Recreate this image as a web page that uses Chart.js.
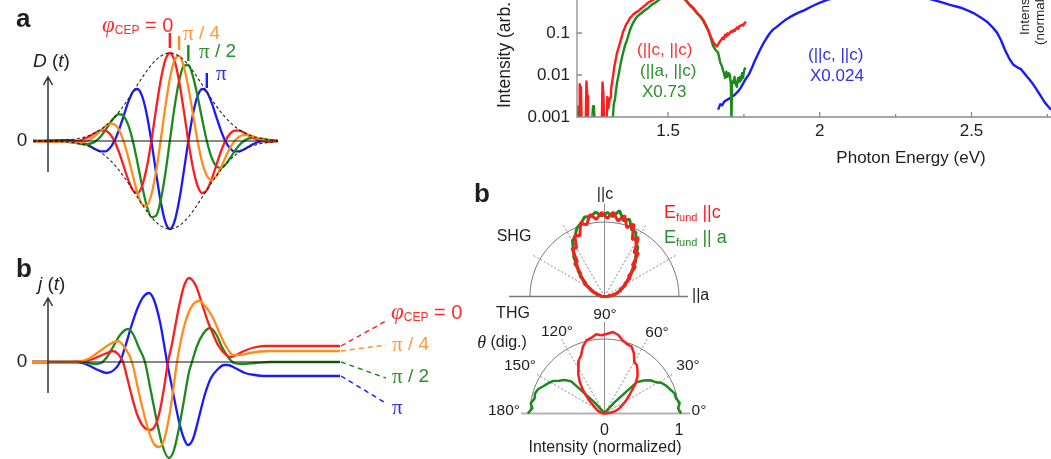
<!DOCTYPE html>
<html>
<head>
<meta charset="utf-8">
<title>CEP-dependent currents and harmonic spectra</title>
<script src="https://cdn.jsdelivr.net/npm/chart.js@4.4.1/dist/chart.umd.min.js"></script>
<style>
  html, body { margin: 0; padding: 0; background: #fff; }
  #figure { position: relative; width: 1051px; height: 459px; overflow: hidden; background: #fff; }
  #figure canvas { position: absolute; }
</style>
</head>
<body>
<div id="figure">
  <canvas id="pulse" width="300" height="240" style="left:0px;top:0px"></canvas>
  <canvas id="current" width="480" height="219" style="left:0px;top:240px"></canvas>
  <canvas id="spectrum" width="571" height="180" style="left:480px;top:0px"></canvas>
  <canvas id="polar" width="260" height="279" style="left:470px;top:180px"></canvas>
</div>
<script>
// ---- panel a: driving field D(t), one trace per carrier-envelope phase
const pulseTime = [-29.6, -22, -21, -20, -19, -18, -17, -16, -15, -14, -13, -12, -11, -10, -9, -8, -7, -6, -5, -4, -3, -2, -1,
  0, 1, 2, 3, 4, 5, 6, 7, 8, 9, 10, 11, 12, 13, 14, 15, 16, 17, 18, 19, 20, 21, 22, 23.4];
const pulseEnvelope = [0, 0.012, 0.018, 0.026, 0.037, 0.052, 0.072, 0.097, 0.128, 0.167, 0.214, 0.269, 0.331, 0.401, 0.477, 0.558, 0.639, 0.720, 0.796, 0.864, 0.921, 0.964, 0.991,
  1, 0.991, 0.964, 0.921, 0.864, 0.796, 0.720, 0.639, 0.558, 0.477, 0.401, 0.331, 0.269, 0.214, 0.167, 0.128, 0.097, 0.072, 0.052, 0.037, 0.026, 0.018, 0.012, 0];
const pulseRed = [0, -0.009, -0.007, 0, 0.014, 0.037, 0.066, 0.097, 0.118, 0.118, 0.082, 0, -0.127, -0.284, -0.441, -0.558, -0.591, -0.509, -0.305, 0, 0.353, 0.682, 0.916,
  1, 0.916, 0.682, 0.353, 0, -0.305, -0.509, -0.591, -0.558, -0.441, -0.284, -0.127, 0, 0.082, 0.118, 0.118, 0.097, 0.066, 0.037, 0.014, 0, -0.007, -0.009, 0];
const pulseOrange = [0, -0.012, -0.016, -0.018, -0.014, 0, 0.027, 0.068, 0.118, 0.167, 0.197, 0.190, 0.127, 0, -0.183, -0.394, -0.591, -0.720, -0.735, -0.611, -0.353, 0, 0.379,
  0.707, 0.916, 0.964, 0.851, 0.611, 0.305, 0, -0.245, -0.394, -0.441, -0.401, -0.306, -0.190, -0.082, 0, 0.049, 0.068, 0.066, 0.052, 0.034, 0.018, 0.007, 0, 0];
const pulseGreen = [0, -0.009, -0.016, -0.026, -0.034, -0.037, -0.027, 0, 0.049, 0.118, 0.197, 0.269, 0.306, 0.284, 0.183, 0, -0.245, -0.509, -0.735, -0.864, -0.851, -0.682, -0.379,
  0, 0.379, 0.682, 0.851, 0.864, 0.735, 0.509, 0.245, 0, -0.183, -0.284, -0.306, -0.269, -0.197, -0.118, -0.049, 0, 0.027, 0.037, 0.034, 0.026, 0.016, 0.009, 0];
const pulseBlue = [0, 0.009, 0.007, 0, -0.014, -0.037, -0.066, -0.097, -0.118, -0.118, -0.082, 0, 0.127, 0.284, 0.441, 0.558, 0.591, 0.509, 0.305, 0, -0.353, -0.682, -0.916,
  -1, -0.916, -0.682, -0.353, 0, 0.305, 0.509, 0.591, 0.558, 0.441, 0.284, 0.127, 0, -0.082, -0.118, -0.118, -0.097, -0.066, -0.037, -0.014, 0, 0.007, 0.009, 0];
// time of the field crest marked above each trace (0, pi/4, pi/2, pi)
const crestTimes = [0, 2, 4, 8];

// ---- panel b: induced current j(t)
const currentTimeRed = [-29.84, -21.62, -19.46, -17.30, -15.14, -13.62, -12.32, -11.24, -10.16, -9.30, -8.22, -7.14, -5.84, -4.32, -3.03, -2.16, -1.30, -0.43,
  0.43, 1.30, 2.16, 3.03, 4.11, 5.62, 7.14, 8.22, 9.30, 10.38, 11.68, 12.97, 14.27, 16.00, 18.16, 20.54, 36.76];
const currentRed = [0, 0, 0.005, 0.02, 0.06, 0.09, 0.11, 0.08, 0, -0.15, -0.35, -0.52, -0.64, -0.68, -0.62, -0.48, -0.26, 0,
  0.18, 0.40, 0.60, 0.76, 0.84, 0.76, 0.55, 0.40, 0.28, 0.17, 0.09, 0.05, 0.07, 0.11, 0.145, 0.16, 0.16];
const currentTimeOrange = [-29.84, -20.54, -19.46, -17.30, -15.14, -12.97, -11.24, -9.73, -8.22, -7.14, -5.84, -4.54, -3.46, -2.38, -1.30, 0,
  0.86, 1.51, 2.38, 3.46, 4.76, 6.27, 7.78, 9.30, 10.81, 12.32, 13.62, 15.14, 17.30, 19.46, 21.62, 36.76];
const currentOrange = [0, 0, 0.005, 0.04, 0.11, 0.18, 0.21, 0.14, 0, -0.22, -0.48, -0.70, -0.82, -0.85, -0.78, -0.50,
  -0.22, 0, 0.22, 0.42, 0.56, 0.61, 0.55, 0.44, 0.28, 0.14, 0.07, 0.07, 0.09, 0.105, 0.11, 0.11];
const currentTimeGreen = [-29.84, -19.46, -17.73, -16.22, -14.92, -13.62, -12.32, -10.81, -9.08, -8.00, -6.70, -5.41, -4.32, -3.03, -1.73, -0.22,
  0.86, 1.95, 3.03, 4.11, 4.76, 5.84, 7.14, 8.65, 9.95, 11.24, 12.54, 13.84, 15.57, 18.38, 21.62, 36.76];
const currentGreen = [0, 0, -0.01, -0.02, -0.01, 0.05, 0.15, 0.27, 0.33, 0.28, 0.14, 0, -0.25, -0.55, -0.82, -0.96,
  -0.88, -0.66, -0.38, -0.10, 0, 0.16, 0.28, 0.34, 0.28, 0.15, 0.05, -0.01, -0.02, -0.01, 0, 0];
const currentTimeBlue = [-29.84, -20.54, -19.03, -17.30, -15.57, -13.62, -12.11, -10.81, -9.51, -8.22, -6.92, -5.62, -4.54, -3.46, -2.16, -1.08, -0.65,
  0.43, 1.73, 2.81, 3.89, 4.97, 6.27, 7.57, 8.86, 10.38, 11.68, 12.54, 14.05, 16.22, 18.38, 20.54, 36.76];
const currentBlue = [0, 0, -0.01, -0.04, -0.08, -0.11, -0.08, 0, 0.18, 0.38, 0.55, 0.66, 0.69, 0.62, 0.40, 0.12, 0,
  -0.25, -0.55, -0.74, -0.83, -0.77, -0.55, -0.32, -0.16, -0.07, -0.03, -0.03, -0.06, -0.11, -0.13, -0.14, -0.14];

// ---- harmonic spectra (photon energy in eV, intensity in arb. units)
const shgRedEnergy = [1.200, 1.207, 1.209, 1.211, 1.213, 1.215, 1.229, 1.231, 1.234, 1.236, 1.282, 1.284, 1.287, 1.289, 1.298, 1.300, 1.303, 1.306,
  1.309, 1.312, 1.316, 1.319, 1.323, 1.327, 1.332, 1.337, 1.342, 1.347, 1.352, 1.357, 1.362, 1.368, 1.374, 1.380, 1.385, 1.392, 1.397, 1.401,
  1.407, 1.414, 1.420, 1.427, 1.434, 1.441, 1.448, 1.457, 1.480, 1.510, 1.530, 1.556, 1.563, 1.572, 1.580, 1.588, 1.596, 1.605, 1.615, 1.622,
  1.632, 1.640, 1.648, 1.655, 1.661, 1.666, 1.671, 1.676, 1.680, 1.684, 1.688, 1.692, 1.696, 1.700, 1.704, 1.708, 1.712, 1.716, 1.720, 1.724,
  1.727, 1.731, 1.735, 1.740, 1.744, 1.748, 1.752, 1.757];
const shgRedIntensity = [0.0009, 0.0009, 0.0060, 0.0052, 0.0045, 0.0009, 0.0009, 0.0070, 0.0032, 0.0009, 0.0009, 0.0066, 0.0036, 0.0009, 0.0009, 0.0030, 0.0016, 0.0022,
  0.0029, 0.0045, 0.0070, 0.0095, 0.0160, 0.0220, 0.0340, 0.0440, 0.0590, 0.0800, 0.1070, 0.1300, 0.1600, 0.1860, 0.2250, 0.2500, 0.2750, 0.3000, 0.3200, 0.3250,
  0.3600, 0.3980, 0.4300, 0.4700, 0.5250, 0.5600, 0.6000, 0.6500, 0.8000, 0.9000, 0.8500, 0.6400, 0.5600, 0.4700, 0.4200, 0.3600, 0.3000, 0.2600, 0.2100, 0.1700,
  0.1200, 0.0850, 0.0620, 0.0520, 0.0480, 0.0550, 0.0630, 0.0700, 0.0780, 0.0720, 0.0910, 0.0820, 0.0980, 0.0920, 0.1020, 0.1100, 0.1050, 0.1180, 0.1120, 0.1280,
  0.1350, 0.1250, 0.1450, 0.1500, 0.1580, 0.1500, 0.1720, 0.1850];
const shgGreenEnergy = [1.200, 1.202, 1.204, 1.206, 1.250, 1.253, 1.256, 1.258, 1.318, 1.321, 1.325, 1.328, 1.332, 1.337, 1.342, 1.347, 1.352, 1.358,
  1.365, 1.370, 1.375, 1.383, 1.391, 1.398, 1.406, 1.414, 1.420, 1.427, 1.434, 1.441, 1.448, 1.457, 1.466, 1.480, 1.510, 1.530, 1.556, 1.563,
  1.572, 1.580, 1.588, 1.596, 1.605, 1.615, 1.622, 1.632, 1.640, 1.648, 1.656, 1.665, 1.672, 1.678, 1.684, 1.688, 1.692, 1.696, 1.700, 1.704,
  1.707, 1.709, 1.711, 1.715, 1.719, 1.723, 1.727, 1.731, 1.734, 1.737, 1.741, 1.744, 1.747, 1.751, 1.755];
const shgGreenIntensity = [0.0009, 0.0018, 0.0014, 0.0009, 0.0009, 0.0018, 0.0015, 0.0009, 0.0009, 0.0020, 0.0026, 0.0040, 0.0066, 0.0100, 0.0158, 0.0240, 0.0340, 0.0500,
  0.0690, 0.0900, 0.1200, 0.1650, 0.2090, 0.2450, 0.2750, 0.3020, 0.3350, 0.3600, 0.3890, 0.4400, 0.4800, 0.5250, 0.5800, 0.7000, 0.8500, 0.8200, 0.6200, 0.5400,
  0.4500, 0.4000, 0.3450, 0.2900, 0.2500, 0.2000, 0.1600, 0.1150, 0.0800, 0.0500, 0.0400, 0.0340, 0.0200, 0.0158, 0.0110, 0.0085, 0.0120, 0.0090, 0.0110, 0.0100,
  0.0060, 0.0008, 0.0070, 0.0065, 0.0090, 0.0060, 0.0052, 0.0085, 0.0070, 0.0090, 0.0075, 0.0110, 0.0085, 0.0130, 0.0150];
const thgBlueEnergy = [1.665, 1.672, 1.678, 1.685, 1.692, 1.700, 1.710, 1.720, 1.730, 1.740, 1.750, 1.758, 1.767, 1.775, 1.785, 1.795, 1.805, 1.815,
  1.826, 1.836, 1.846, 1.858, 1.870, 1.885, 1.900, 1.915, 1.930, 1.950, 1.968, 1.985, 2.001, 2.027, 2.080, 2.150, 2.220, 2.300, 2.373, 2.400,
  2.429, 2.462, 2.485, 2.505, 2.528, 2.551, 2.568, 2.584, 2.597, 2.610, 2.624, 2.637, 2.652, 2.662, 2.670, 2.684, 2.699, 2.709, 2.719, 2.730,
  2.742, 2.752, 2.762];
const thgBlueIntensity = [0.0015, 0.0020, 0.0019, 0.0023, 0.0025, 0.0027, 0.0030, 0.0034, 0.0040, 0.0050, 0.0068, 0.0085, 0.0105, 0.0140, 0.0210, 0.0300, 0.0420, 0.0580,
  0.0780, 0.1000, 0.1200, 0.1400, 0.1650, 0.2000, 0.2350, 0.2700, 0.3050, 0.3500, 0.4100, 0.4700, 0.5300, 0.6200, 0.7800, 0.9000, 0.9200, 0.8200, 0.6170, 0.5400,
  0.4680, 0.4050, 0.3500, 0.3020, 0.2400, 0.1860, 0.1400, 0.1020, 0.0680, 0.0400, 0.0250, 0.0178, 0.0150, 0.0140, 0.0120, 0.0090, 0.0066, 0.0052, 0.0040, 0.0030,
  0.0022, 0.0018, 0.0015];
const energyTicks = [1.25, 1.5, 1.75, 2, 2.25, 2.5, 2.75];
const energyTickLabels = ['', '1.5', '', '2', '', '2.5', ''];
const intensityTicks = [0.001, 0.01, 0.1];
const intensityTickLabels = ['0.001', '0.01', '0.1'];

// ---- polar dependence (angle in degrees, normalized intensity)
const polarAngles = [0, 4, 8, 12, 16, 20, 24, 28, 32, 36, 40, 44, 48, 52, 56, 60, 64, 68, 72, 76, 80, 84, 88,
  92, 96, 100, 104, 108, 112, 116, 120, 124, 128, 132, 136, 140, 144, 148, 152, 156, 160, 164, 168, 172, 176, 180];
const shgAlongC = [0.00, 0.05, 0.09, 0.15, 0.16, 0.24, 0.23, 0.32, 0.32, 0.43, 0.42, 0.58, 0.56, 0.74, 0.71, 0.91, 0.85, 1.05, 0.97, 1.12, 1.03, 1.14, 1.05,
  1.13, 1.04, 1.12, 0.99, 1.04, 0.88, 0.91, 0.75, 0.78, 0.59, 0.60, 0.44, 0.43, 0.31, 0.32, 0.20, 0.20, 0.12, 0.11, 0.06, 0.05, 0.02, 0.00];
const shgAlongA = [0.00, 0.04, 0.10, 0.13, 0.19, 0.21, 0.26, 0.29, 0.35, 0.39, 0.47, 0.52, 0.62, 0.68, 0.80, 0.84, 0.96, 0.97, 1.09, 1.05, 1.17, 1.08, 1.13,
  1.08, 1.14, 1.09, 1.10, 1.03, 0.99, 0.90, 0.86, 0.74, 0.67, 0.54, 0.49, 0.39, 0.35, 0.27, 0.23, 0.16, 0.14, 0.09, 0.07, 0.04, 0.02, 0.00];
const thgAlongC = [0.00, 0.04, 0.09, 0.14, 0.18, 0.22, 0.25, 0.30, 0.35, 0.41, 0.48, 0.58, 0.66, 0.72, 0.78, 0.80, 0.90, 0.97, 0.98, 1.01, 1.07, 1.10, 1.07,
  1.05, 1.07, 1.03, 1.01, 0.94, 0.84, 0.79, 0.70, 0.63, 0.54, 0.44, 0.34, 0.26, 0.19, 0.15, 0.12, 0.10, 0.08, 0.06, 0.04, 0.03, 0.01, 0.00];
const thgAlongA = [1.03, 0.99, 1.02, 0.98, 0.98, 0.94, 0.91, 0.87, 0.80, 0.76, 0.69, 0.61, 0.20, 0.04, 0, 0, 0, 0, 0, 0, 0, 0, 0,
  0, 0, 0, 0, 0, 0, 0, 0, 0, 0.04, 0.20, 0.62, 0.70, 0.75, 0.82, 0.86, 0.90, 0.95, 0.97, 0.96, 1.00, 0.97, 1.03];

// ---- styling
const SANS = '"Liberation Sans", Arial, Helvetica, sans-serif';
const SERIF = '"Liberation Serif", "Times New Roman", serif';
const RED = '#ff1c1c', ORANGE = '#ff8c1a', GREEN = '#1b8a1b', BLUE = '#1a1aff';
const RED_TEXT = '#ff2e2e', ORANGE_TEXT = '#ff9a3a', GREEN_TEXT = '#2a8f2a', BLUE_TEXT = '#3030e6';
const INK = '#1e1e1e';

function sans(size, style) { return (style ? style + ' ' : '') + size + 'px ' + SANS; }
function serif(size, style) { return (style ? style + ' ' : '') + size + 'px ' + SERIF; }

// draw a run of differently styled pieces: [text, font, color, dy]
function drawParts(ctx, parts, x, y, align) {
  let total = 0;
  parts.forEach(p => { ctx.font = p[1]; total += ctx.measureText(p[0]).width; });
  let cx = align === 'center' ? x - total / 2 : (align === 'right' ? x - total : x);
  ctx.textAlign = 'left';
  ctx.textBaseline = 'middle';
  parts.forEach(p => {
    ctx.font = p[1];
    ctx.fillStyle = p[2];
    ctx.fillText(p[0], cx, y + (p[3] || 0));
    cx += ctx.measureText(p[0]).width;
  });
}

function drawUpright(ctx, text, x, yStart, f, color) {
  ctx.save();
  ctx.translate(x, yStart);
  ctx.rotate(-Math.PI / 2);
  ctx.font = f;
  ctx.fillStyle = color;
  ctx.textAlign = 'left';
  ctx.textBaseline = 'middle';
  ctx.fillText(text, 0, 0);
  ctx.restore();
}

function segment(ctx, x1, y1, x2, y2) {
  ctx.beginPath();
  ctx.moveTo(x1, y1);
  ctx.lineTo(x2, y2);
  ctx.stroke();
}

function upArrow(ctx, x, yBottom, yTop) {
  ctx.strokeStyle = '#333';
  ctx.lineWidth = 1.5;
  ctx.beginPath();
  ctx.moveTo(x, yBottom);
  ctx.lineTo(x, yTop);
  ctx.moveTo(x - 4.5, yTop + 8);
  ctx.lineTo(x, yTop);
  ctx.lineTo(x + 4.5, yTop + 8);
  ctx.stroke();
}

function curve(xs, ys, color, extra) {
  return Object.assign({
    data: xs.map((x, i) => ({ x: x, y: ys[i] })),
    borderColor: color,
    borderWidth: 2.3,
    pointRadius: 0,
    fill: false,
    cubicInterpolationMode: 'monotone'
  }, extra || {});
}

function chartOptions(padding, scales) {
  return {
    responsive: false,
    animation: false,
    devicePixelRatio: 1,
    events: [],
    layout: { padding: padding },
    plugins: { legend: { display: false }, tooltip: { enabled: false } },
    scales: scales
  };
}

// ---------------- panel a
const pulseDecor = {
  id: 'pulseDecor',
  afterDatasetsDraw(chart) {
    const { ctx, chartArea: area, scales: { x, y } } = chart;
    const zeroY = y.getPixelForValue(0);
    ctx.save();
    ctx.strokeStyle = '#111';
    ctx.lineWidth = 1.2;
    segment(ctx, area.left, zeroY, area.right, zeroY);
    upArrow(ctx, 48, 172, 77);

    // crest markers above the traces
    const marks = [[RED, 33, 48], [ORANGE, 36, 50], [GREEN, 45, 61], [BLUE, 73, 88]];
    ctx.lineWidth = 2.4;
    marks.forEach((m, i) => {
      const px = x.getPixelForValue(crestTimes[i]);
      ctx.strokeStyle = m[0];
      segment(ctx, px, m[1], px, m[2]);
    });

    ctx.fillStyle = INK;
    ctx.font = sans(26, 'bold');
    ctx.textAlign = 'left';
    ctx.textBaseline = 'alphabetic';
    ctx.fillText('a', 16, 27);
    drawParts(ctx, [['0', sans(19), INK]], 22, zeroY, 'center');
    drawParts(ctx, [['D', sans(19, 'italic'), INK], [' (', sans(19), INK], ['t', sans(19, 'italic'), INK], [')', sans(19), INK]], 33, 62, 'left');
    drawParts(ctx, [['φ', serif(23, 'italic'), RED_TEXT], ['CEP', sans(12), RED_TEXT, 5], [' = 0', sans(20), RED_TEXT]], 102, 26, 'left');
    drawParts(ctx, [['π', serif(21), ORANGE_TEXT], [' / 4', sans(19), ORANGE_TEXT]], 183, 34, 'left');
    drawParts(ctx, [['π', serif(21), GREEN_TEXT], [' / 2', sans(19), GREEN_TEXT]], 199, 52, 'left');
    drawParts(ctx, [['π', serif(21), BLUE_TEXT]], 216, 74, 'left');
    ctx.restore();
  }
};

new Chart(document.getElementById('pulse'), {
  type: 'line',
  data: {
    datasets: [
      curve(pulseTime, pulseEnvelope, '#222', { borderWidth: 1.1, borderDash: [3, 2.5], order: 0 }),
      curve(pulseTime, pulseEnvelope.map(v => -v), '#222', { borderWidth: 1.1, borderDash: [3, 2.5], order: 0 }),
      curve(pulseTime, pulseOrange, ORANGE, { order: 1 }),
      curve(pulseTime, pulseRed, RED, { order: 2 }),
      curve(pulseTime, pulseGreen, GREEN, { order: 3 }),
      curve(pulseTime, pulseBlue, BLUE, { order: 4 })
    ]
  },
  options: chartOptions({ left: 33, right: 22, top: 45, bottom: 5 }, {
    x: { type: 'linear', display: false, min: -29.6, max: 23.4 },
    y: { type: 'linear', display: false, min: -1.068, max: 1.091 }
  }),
  plugins: [pulseDecor]
});

// ---------------- panel b
const currentSeries = [
  { t: currentTimeRed, j: currentRed, color: RED, end: [386, 81], label: [[['φ', serif(23, 'italic'), RED_TEXT], ['CEP', sans(12), RED_TEXT, 5], [' = 0', sans(20), RED_TEXT]], 391, 73] },
  { t: currentTimeOrange, j: currentOrange, color: ORANGE, end: [386, 105], label: [[['π', serif(21), ORANGE_TEXT], [' / 4', sans(19), ORANGE_TEXT]], 392, 105] },
  { t: currentTimeGreen, j: currentGreen, color: GREEN, end: [386, 138], label: [[['π', serif(21), GREEN_TEXT], [' / 2', sans(19), GREEN_TEXT]], 392, 137] },
  { t: currentTimeBlue, j: currentBlue, color: BLUE, end: [384, 162], label: [[['π', serif(21), BLUE_TEXT]], 392, 168] }
];

const currentDecor = {
  id: 'currentDecor',
  afterDatasetsDraw(chart) {
    const { ctx, chartArea: area, scales: { x, y } } = chart;
    const zeroY = y.getPixelForValue(0);
    ctx.save();
    ctx.strokeStyle = '#111';
    ctx.lineWidth = 1.2;
    segment(ctx, 48, zeroY, area.right, zeroY);
    upArrow(ctx, 48, 153, 58);

    // dashed leaders from the final current level to each label
    ctx.lineWidth = 1.4;
    ctx.setLineDash([5, 4]);
    currentSeries.forEach(s => {
      const last = s.j[s.j.length - 1];
      ctx.strokeStyle = s.color;
      segment(ctx, x.getPixelForValue(s.t[s.t.length - 1]) + 1, y.getPixelForValue(last), s.end[0], s.end[1]);
    });
    ctx.setLineDash([]);
    currentSeries.forEach(s => drawParts(ctx, s.label[0], s.label[1], s.label[2], 'left'));

    ctx.fillStyle = INK;
    ctx.font = sans(26, 'bold');
    ctx.textAlign = 'left';
    ctx.textBaseline = 'alphabetic';
    ctx.fillText('b', 16, 37);
    drawParts(ctx, [['0', sans(19), INK]], 22, zeroY, 'center');
    drawParts(ctx, [['j', sans(19, 'italic'), INK], [' (', sans(19), INK], ['t', sans(19, 'italic'), INK], [')', sans(19), INK]], 38, 45, 'left');
    ctx.restore();
  }
};

new Chart(document.getElementById('current'), {
  type: 'line',
  data: {
    datasets: [
      curve(currentTimeOrange, currentOrange, ORANGE, { order: 1 }),
      curve(currentTimeRed, currentRed, RED, { order: 2 }),
      curve(currentTimeGreen, currentGreen, GREEN, { order: 3 }),
      curve(currentTimeBlue, currentBlue, BLUE, { order: 4 })
    ]
  },
  options: chartOptions({ left: 32, right: 140, top: 35, bottom: 0 }, {
    x: { type: 'linear', display: false, min: -29.84, max: 36.76 },
    y: { type: 'linear', display: false, min: -0.97, max: 0.87 }
  }),
  plugins: [currentDecor]
});

// ---------------- spectra
const spectrumFrame = {
  id: 'spectrumFrame',
  afterDatasetsDraw(chart) {
    const { ctx, chartArea: area, scales: { x, y } } = chart;
    ctx.save();
    ctx.strokeStyle = '#8c8c8c';
    ctx.lineWidth = 1.3;
    ctx.beginPath();
    ctx.moveTo(area.left, area.top);
    ctx.lineTo(area.left, area.bottom);
    ctx.lineTo(area.right, area.bottom);
    energyTicks.forEach((v, i) => {
      const px = x.getPixelForValue(v);
      ctx.moveTo(px, area.bottom);
      ctx.lineTo(px, area.bottom - (energyTickLabels[i] ? 5 : 3));
    });
    intensityTicks.forEach(v => {
      const py = y.getPixelForValue(v);
      ctx.moveTo(area.left, py);
      ctx.lineTo(area.left + 5, py);
    });
    ctx.stroke();

    energyTicks.forEach((v, i) => {
      if (energyTickLabels[i]) drawParts(ctx, [[energyTickLabels[i], sans(17), INK]], x.getPixelForValue(v), area.bottom + 14, 'center');
    });
    intensityTicks.forEach((v, i) => {
      drawParts(ctx, [[intensityTickLabels[i], sans(17), INK]], area.left - 7, y.getPixelForValue(v), 'right');
    });
    drawParts(ctx, [['Photon Energy (eV)', sans(17), INK]], 431, 158, 'center');
    drawUpright(ctx, 'Intensity (arb. units)', 25, 108, sans(17.5), INK);
    drawUpright(ctx, 'Intensity', 545, 35, sans(13.5), INK);
    drawUpright(ctx, '(normalized)', 560, 45, sans(13.5), INK);

    drawParts(ctx, [['(||c, ||c)', sans(17), RED_TEXT]], 157, 50, 'left');
    drawParts(ctx, [['(||a, ||c)', sans(17), GREEN_TEXT]], 160, 71, 'left');
    drawParts(ctx, [['X0.73', sans(17), GREEN_TEXT]], 162, 92, 'left');
    drawParts(ctx, [['(||c, ||c)', sans(17), BLUE_TEXT]], 328, 55, 'left');
    drawParts(ctx, [['X0.024', sans(17), BLUE_TEXT]], 330, 76, 'left');
    ctx.restore();
  }
};

function spectrumLine(xs, ys, color, order) {
  return curve(xs, ys, color, { order: order, borderWidth: 2.4, cubicInterpolationMode: 'default', tension: 0, borderJoinStyle: 'round' });
}

new Chart(document.getElementById('spectrum'), {
  type: 'line',
  data: {
    datasets: [
      spectrumLine(shgRedEnergy, shgRedIntensity, RED, 0),
      spectrumLine(shgGreenEnergy, shgGreenIntensity, GREEN, 1),
      spectrumLine(thgBlueEnergy, thgBlueIntensity, BLUE, 2)
    ]
  },
  options: chartOptions({ left: 97, right: 0, top: 0, bottom: 63 }, {
    x: { type: 'linear', display: false, min: 1.2, max: 2.762 },
    y: { type: 'logarithmic', display: false, min: 0.001, max: 0.61 }
  }),
  plugins: [spectrumFrame]
});

// ---------------- polar plots (SHG on axis y, THG on axis y2)
const polarPanels = [
  { axis: 'y', base: [-1.28, 1.12], baseColor: '#777', baseWidth: 1.5, spoke90: 1.25, spokes: [[30, 1.1], [60, 1.1], [120, 1.12], [150, 1.12]] },
  { axis: 'y2', base: [-1.12, 1.15], baseColor: '#b4b4b4', baseWidth: 2.2, spoke90: 1.23, spokes: [[30, 1.05], [60, 1.15], [120, 1.15], [150, 1.05]] }
];

function polarPoints(rs) {
  return polarAngles.map((a, i) => ({
    x: rs[i] * Math.cos(a * Math.PI / 180),
    y: rs[i] * Math.sin(a * Math.PI / 180)
  }));
}

const polarGrid = {
  id: 'polarGrid',
  beforeDatasetsDraw(chart) {
    const { ctx, scales } = chart;
    const x = scales.x;
    ctx.save();
    polarPanels.forEach(p => {
      const ys = scales[p.axis];
      const cx = x.getPixelForValue(0), cy = ys.getPixelForValue(0);
      const R = x.getPixelForValue(1) - cx;
      ctx.strokeStyle = '#7a7a7a';
      ctx.lineWidth = 1;
      ctx.beginPath();
      ctx.arc(cx, cy, R, Math.PI, 2 * Math.PI);
      ctx.stroke();
      ctx.strokeStyle = '#8a8a8a';
      segment(ctx, cx, cy, cx, cy - p.spoke90 * R);
      ctx.setLineDash([2, 2]);
      p.spokes.forEach(s => {
        const a = s[0] * Math.PI / 180;
        segment(ctx, cx, cy, cx + Math.cos(a) * s[1] * R, cy - Math.sin(a) * s[1] * R);
      });
      ctx.setLineDash([]);
      ctx.strokeStyle = p.baseColor;
      ctx.lineWidth = p.baseWidth;
      segment(ctx, x.getPixelForValue(p.base[0]), cy, x.getPixelForValue(p.base[1]), cy);
    });
    ctx.restore();
  },
  afterDatasetsDraw(chart) {
    const { ctx, scales } = chart;
    const x = scales.x;
    ctx.save();
    ctx.fillStyle = INK;
    ctx.font = sans(26, 'bold');
    ctx.textAlign = 'left';
    ctx.textBaseline = 'alphabetic';
    ctx.fillText('b', 4, 22);
    drawParts(ctx, [['||c', sans(16), INK]], 135, 15, 'center');
    drawParts(ctx, [['SHG', sans(16), INK]], 44, 57, 'center');
    drawParts(ctx, [['E', sans(18), RED], ['fund', sans(11), RED, 5], [' ||c', sans(18), RED]], 194, 33, 'left');
    drawParts(ctx, [['E', sans(18), GREEN_TEXT], ['fund', sans(11), GREEN_TEXT, 5], [' || a', sans(18), GREEN_TEXT]], 194, 58, 'left');
    drawParts(ctx, [['||a', sans(16), INK]], 222, 116, 'left');
    drawParts(ctx, [['THG', sans(16), INK]], 43, 134, 'center');
    drawParts(ctx, [['90°', sans(15.5), INK]], 135, 135, 'center');
    drawParts(ctx, [['120°', sans(15.5), INK]], 87, 152, 'center');
    drawParts(ctx, [['60°', sans(15.5), INK]], 187, 153, 'center');
    drawParts(ctx, [['θ', serif(18, 'italic'), INK], [' (dig.)', sans(16), INK]], 32, 163, 'center');
    drawParts(ctx, [['150°', sans(15.5), INK]], 50, 186, 'center');
    drawParts(ctx, [['30°', sans(15.5), INK]], 218, 186, 'center');
    drawParts(ctx, [['180°', sans(15.5), INK]], 34, 231, 'center');
    drawParts(ctx, [['0°', sans(15.5), INK]], 229, 231, 'center');
    drawParts(ctx, [['0', sans(16), INK]], x.getPixelForValue(0), 251, 'center');
    drawParts(ctx, [['1', sans(16), INK]], x.getPixelForValue(1), 251, 'center');
    drawParts(ctx, [['Intensity (normalized)', sans(16), INK]], 135, 268, 'center');
    ctx.restore();
  }
};

function polarLine(rs, color, axis, order, width) {
  return {
    data: polarPoints(rs),
    yAxisID: axis,
    showLine: true,
    borderColor: color,
    borderWidth: width,
    pointRadius: 0,
    tension: 0,
    borderJoinStyle: 'bevel',
    order: order,
    clip: false
  };
}

new Chart(document.getElementById('polar'), {
  type: 'scatter',
  data: {
    datasets: [
      polarLine(shgAlongC, RED, 'y', 0, 3),
      polarLine(shgAlongA, GREEN, 'y', 1, 3),
      polarLine(thgAlongC, RED, 'y2', 0, 2.5),
      polarLine(thgAlongA, GREEN, 'y2', 1, 2.5)
    ]
  },
  options: chartOptions({ left: 0, right: 0, top: 0, bottom: 0 }, {
    x: { type: 'linear', display: false, min: -1.805, max: 1.685 },
    y: { type: 'linear', display: false, min: -2.181, max: 1.564 },
    y2: { type: 'linear', display: false, min: -0.611, max: 3.134 }
  }),
  plugins: [polarGrid]
});
</script>
</body>
</html>
